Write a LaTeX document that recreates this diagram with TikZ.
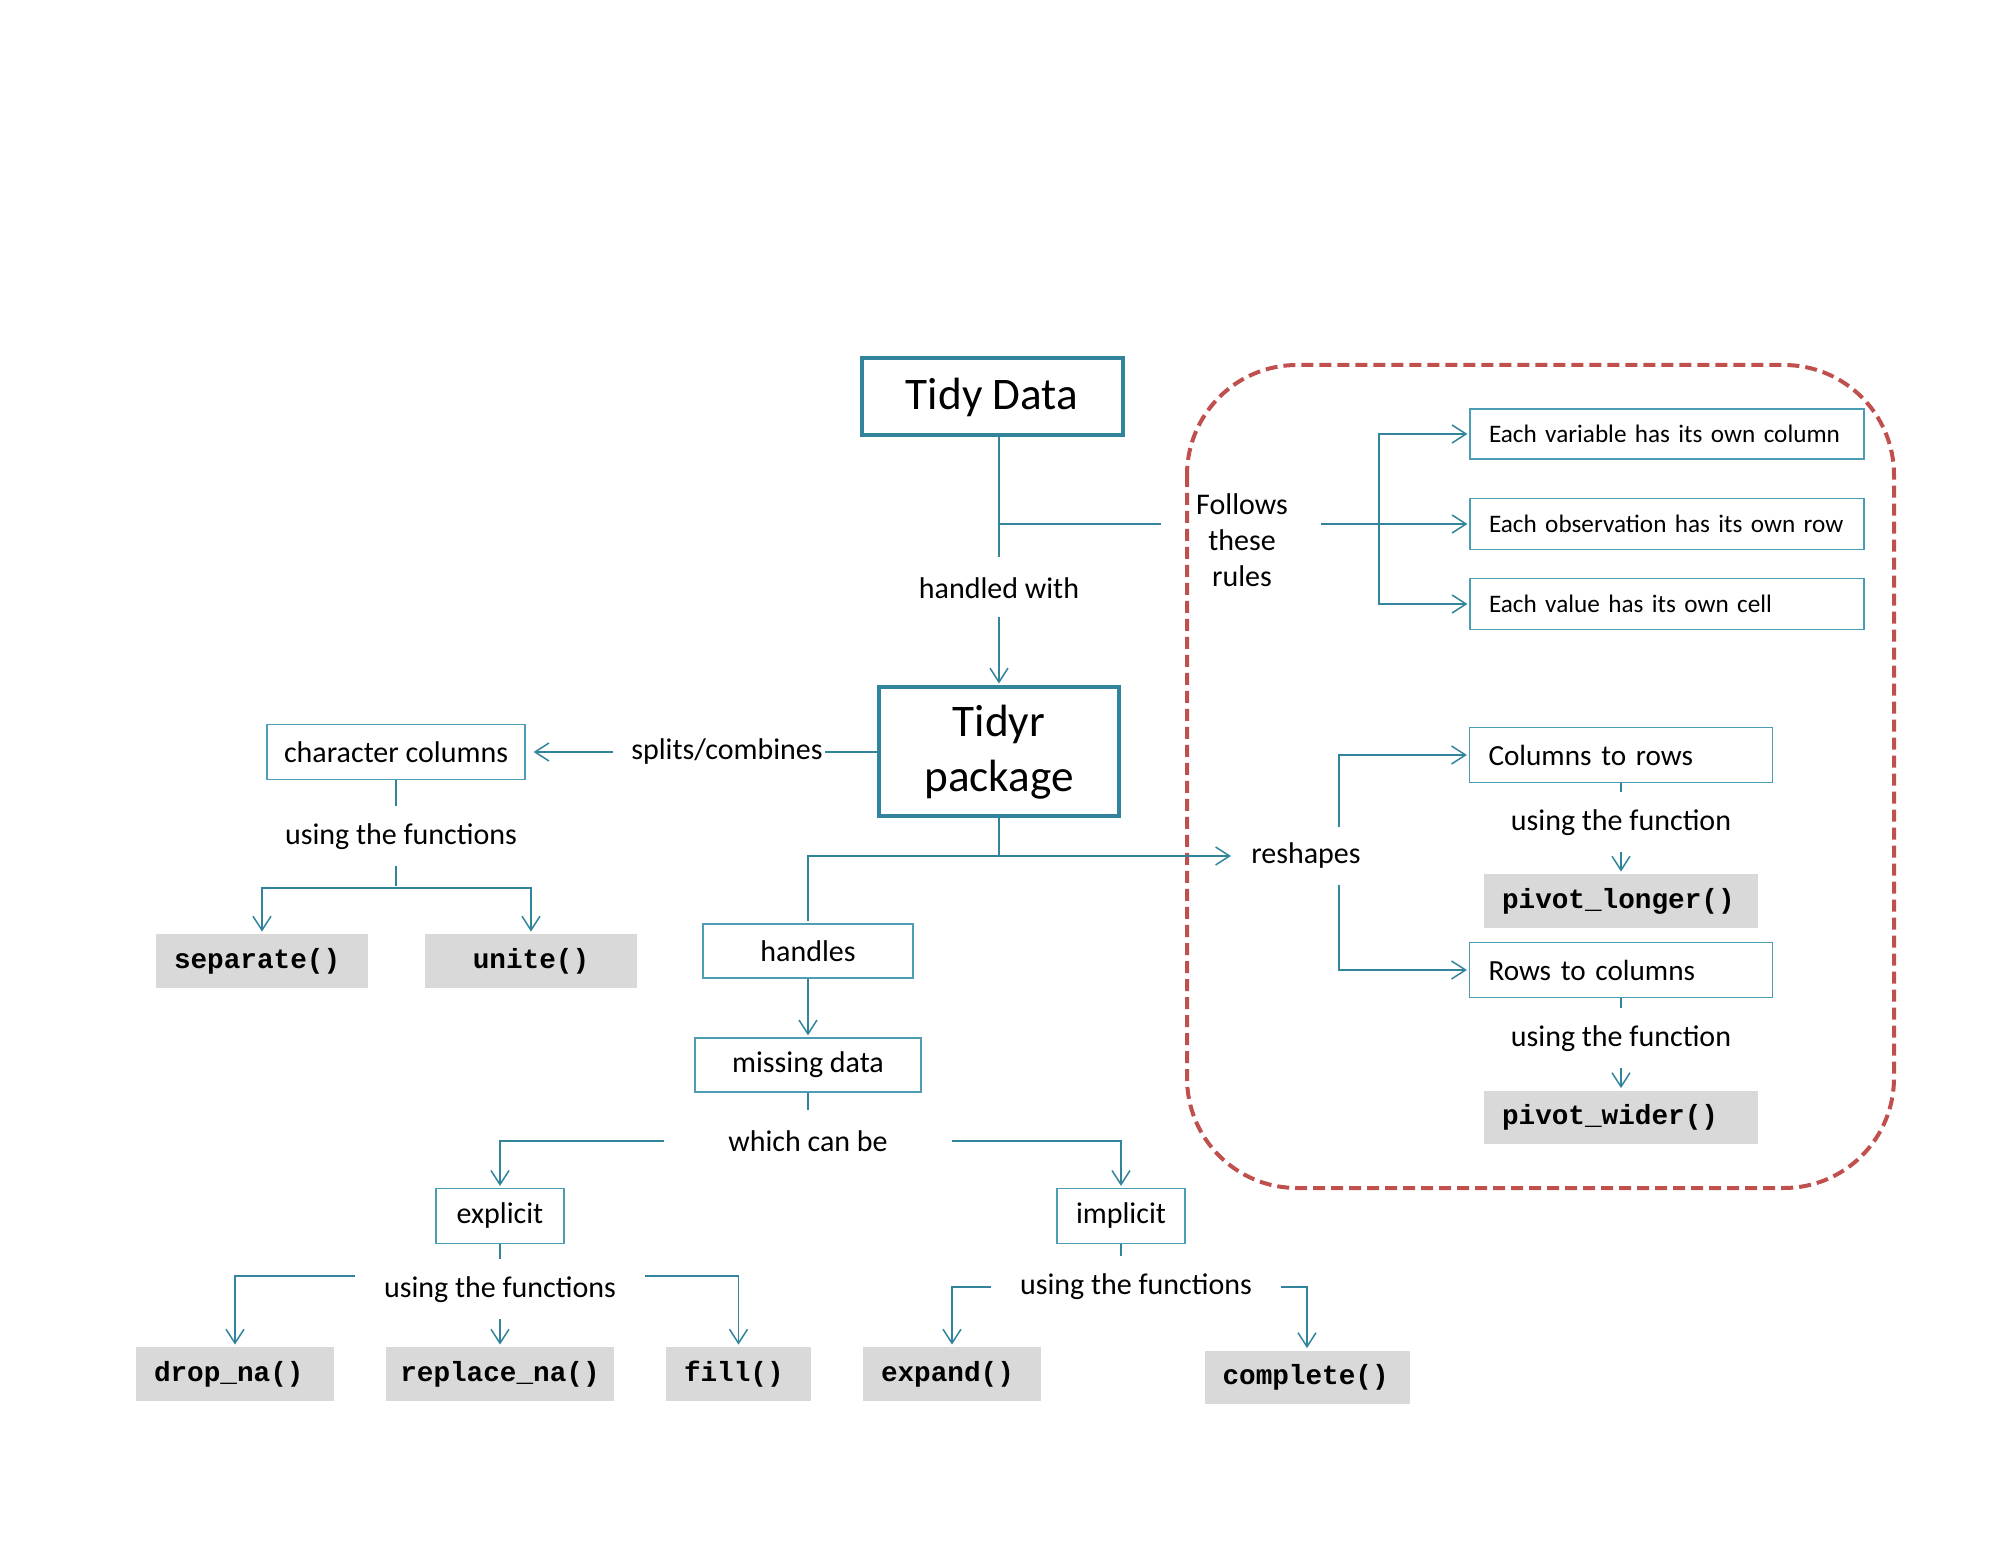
\documentclass[tikz,border=0pt]{standalone}
\usepackage{fontspec}
\setmainfont{Carlito}
\newfontfamily\codefont{Liberation Mono}
\usetikzlibrary{arrows.meta}
\definecolor{tealline}{HTML}{31849B}
\definecolor{tealbox}{HTML}{4A9DB5}
\definecolor{codegray}{HTML}{D9D9D9}
\definecolor{rulered}{HTML}{C0504D}
\newcommand{\lblfont}{\fontsize{15}{18}\selectfont}
\tikzstyle{every picture}=[x=0.5pt, y=-0.5pt, shorten >=1pt,%
	>={Straight Barb[length=7pt,width=9pt]}]
\tikzstyle{topic}=[draw=tealline, line width=2pt, align=center,%
	font=\fontsize{22.6}{27.5}\selectfont]
\tikzstyle{box}=[draw=tealbox, line width=0.6pt, font=\lblfont, inner sep=0pt]
\tikzstyle{rulebox}=[box, inner xsep=9.5pt, align=left]
\tikzstyle{rule}=[rulebox, font=\fontsize{12.6}{15}\selectfont, text width=178pt, minimum height=25.5pt]
\tikzstyle{code}=[fill=codegray, font=\codefont\bfseries\fontsize{13.85}{16}\selectfont,%
	inner xsep=9pt, inner ysep=0pt, minimum height=27pt, align=left]
\tikzstyle{lbl}=[font=\lblfont, inner sep=0pt, minimum height=29pt]
\tikzstyle{link}=[draw=tealline, line width=0.75pt]

\begin{document}
\begin{tikzpicture}
	\useasboundingbox (0,0) rectangle (1999,1545);
	% rules frame
	\draw[rulered, line width=2pt, dash pattern=on 6pt off 3pt, rounded corners=55pt]%
		(1187,365) rectangle (1894,1188);
	\node[topic, minimum width=130.5pt, minimum height=38.5pt] (tidy) at (992,397) {Tidy Data};
	\node[topic, minimum width=120pt, minimum height=64.5pt] (tidyr) at (999,752) {Tidyr\\package};
	\node[lbl] (handled) at (999,588) {handled with};
	\node[lbl, align=center, minimum width=78.5pt] (follows) at (1242,540) {Follows\\these\\rules};
	\node[rule, minimum height=25pt] (rule1) at (1667,434) {\mbox{Each variable has its own column}};
	\node[rule] (rule2) at (1667,524) {\mbox{Each observation has its own row}};
	\node[rule] (rule3) at (1667,604) {\mbox{Each value has its own cell}};
	\node[lbl] (splits) at (727,752) {splits/combines};
	\node[box, minimum width=129pt, minimum height=27.5pt] (charcols) at (396,752) {character columns};
	\node[lbl] (usingA) at (401,837) {using the functions};
	\node[code, text width=88pt] (separate) at (262,961) {separate()};
	\node[code, text width=88pt, align=center] (unite) at (531,961) {unite()};
	\node[lbl] (reshapes) at (1306,856) {reshapes};
	\node[rulebox, font=\fontsize{14.6}{17}\selectfont, text width=132.5pt, minimum height=27.5pt] (colrows) at (1621,755) {Columns to rows};
	\node[lbl] (usingD) at (1621,823) {using the function};
	\node[code, text width=119pt] (pivotlong) at (1621,901) {pivot\_longer()};
	\node[rulebox, font=\fontsize{14.6}{17}\selectfont, text width=132.5pt, minimum height=27.5pt] (rowcols) at (1621,970) {Rows to columns};
	\node[lbl] (usingE) at (1621,1039) {using the function};
	\node[code, text width=119pt, minimum height=26.5pt] (pivotwide) at (1621,1117) {pivot\_wider()};
	\node[box, minimum width=105pt, minimum height=27pt] (handles) at (808,951) {handles};
	\node[box, minimum width=113pt, minimum height=27pt] (missing) at (808,1065) {missing data};
	\node[lbl, minimum width=144pt] (whichcan) at (808,1141) {which can be};
	\node[box, minimum width=64pt, minimum height=27.5pt] (explicit) at (500,1216) {explicit};
	\node[box, minimum width=64pt, minimum height=27.5pt] (implicit) at (1121,1216) {implicit};
	\node[lbl, minimum width=145pt] (usingB) at (500,1290) {using the functions};
	\node[lbl, minimum width=145pt] (usingC) at (1136,1287) {using the functions};
	\node[code, text width=81pt] (dropna) at (235,1374) {drop\_na()};
	\node[code, inner xsep=4pt, text width=106pt, align=center] (replacena) at (500,1374) {replace\_na()};
	\node[code, text width=54.5pt] (fillna) at (738.5,1374) {fill()};
	\node[code, text width=71pt] (expand) at (952,1374) {expand()};
	\node[code, text width=84.5pt, minimum height=26.5pt] (complete) at (1307,1377) {complete()};
	\coordinate (rulesin) at ([yshift=8pt]follows.west);
	\coordinate (rulesout) at ([yshift=8pt]follows.east);
	\coordinate (rulefork) at (1379,524);
	\coordinate (splitfork) at (396,888);
	\coordinate (reshapefork) at (1339,856);
	% tidy data and its rules
	\draw[link] (tidy.south -| tidyr.north) -- (handled.north);
	\draw[link,->] (handled.south) -- (tidyr.north);
	\draw[link] (rulesin -| handled.north) -- (rulesin);
	\draw[link,->] (rulesout) -- (rule2.west);
	\draw[link,->] (rulefork) |- (rule1.west);
	\draw[link,->] (rulefork) |- (rule3.west);
	% splits/combines
	\draw[link] (tidyr.west) -- (splits.east);
	\draw[link,->,shorten <=9pt,shorten >=4pt] (splits.west) -- (charcols.east);
	\draw[link] (charcols.south) -- (charcols.south |- usingA.north);
	\draw[link] (charcols.south |- usingA.south) -- (splitfork);
	\draw[link,->] (splitfork) -| (separate.north);
	\draw[link,->] (splitfork) -| (unite.north);
	% reshapes
	\draw[link,->,shorten >=10pt] (tidyr.south) |- (reshapes.west);
	\draw[link,->] (reshapefork |- reshapes.north) |- (colrows.west);
	\draw[link,->] (reshapefork |- reshapes.south) |- (rowcols.west);
	\draw[link] (colrows.south) -- (usingD.north);
	\draw[link,->] (usingD.south) -- (pivotlong.north);
	\draw[link] (rowcols.south) -- (usingE.north);
	\draw[link,->] (usingE.south) -- (pivotwide.north);
	% missing data
	\draw[link] (tidyr.south |- reshapes.west) -| (handles.north);
	\draw[link,->] (handles.south) -- (missing.north);
	\draw[link] (missing.south) -- (whichcan.north);
	\draw[link,->] (whichcan.west) -| (explicit.north);
	\draw[link,->] (whichcan.east) -| (implicit.north);
	\draw[link] (explicit.south) -- (usingB.north);
	\draw[link,->] ([yshift=7pt]usingB.west) -| (dropna.north);
	\draw[link,->] (usingB.south) -- (replacena.north);
	\draw[link,->] ([yshift=7pt]usingB.east) -| (fillna.north);
	\draw[link] (implicit.south) -- (implicit.south |- usingC.north);
	\draw[link,->] (usingC.west) -| (expand.north);
	\draw[link,->] (usingC.east) -| (complete.north);
\end{tikzpicture}
\end{document}
